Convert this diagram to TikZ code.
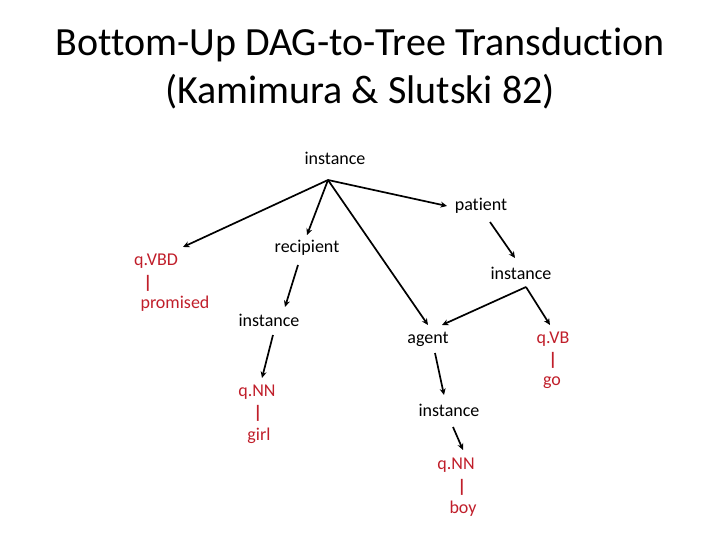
\documentclass[tikz,border=0pt]{standalone}
\usepackage{fontspec}
\setmainfont{Carlito}[Ligatures={NoCommon,NoRare},Contextuals=NoAlternate]
\usetikzlibrary{arrows.meta}
\definecolor{qred}{RGB}{192,30,42}
\begin{document}
\begin{tikzpicture}[x=1pt,y=-1pt,
  lbl/.style={font=\fontsize{18}{21}\selectfont, inner sep=0pt},
  qlbl/.style={lbl, text=qred},
  qbar/.style={qlbl, font=\fontsize{18}{21}\selectfont\bfseries},
  edge/.style={line width=1.7pt, -{Stealth[length=6.5pt,width=6pt]}}]
\useasboundingbox (0,0) rectangle (720,540);
\node[font=\fontsize{40}{48}\selectfont, inner sep=0pt] (t1) at (360,45) {Bottom-Up DAG-to-Tree Transduction};
\node[font=\fontsize{40}{48}\selectfont, inner sep=0pt] (t2) at (360,92) {(Kamimura \& Slutski 82)};

\node[lbl] (inst0) at (335,158) {instance};
\node[lbl] (patient) at (481,206) {patient};
\node[qlbl] (vbd) at (156,261) {q.VBD};
\node[qbar] (vbdbar) at (148,283) {|};
\node[qlbl] (promised) at (175,304) {promised};
\node[lbl] (recipient) at (307,248) {recipient};
\node[lbl] (inst1) at (521,273) {instance};
\node[lbl] (inst2) at (269,320) {instance};
\node[lbl] (agent) at (428,339) {agent};
\node[qlbl] (vb) at (553,339) {q.VB};
\node[qbar] (vbbar) at (553,360) {|};
\node[qlbl] (go) at (552,383) {go};
\node[qlbl] (nn1) at (257,392) {q.NN};
\node[qbar] (nn1bar) at (258,413) {|};
\node[qlbl] (girl) at (259,436) {girl};
\node[lbl] (inst3) at (449,410) {instance};
\node[qlbl] (nn2) at (456,465) {q.NN};
\node[qbar] (nn2bar) at (462,487) {|};
\node[qlbl] (boy) at (463,509) {boy};

\coordinate (root) at (328,180);
\coordinate (vbdIn) at (183,247);
\coordinate (recIn) at (307,235);
\coordinate (recOut) at (298,265);
\coordinate (agIn1) at (428,325);
\coordinate (patIn) at (447,206);
\coordinate (patOut) at (490,222);
\coordinate (i1In) at (515,258);
\coordinate (i1Out) at (526,287);
\coordinate (agIn2) at (442,325);
\coordinate (vbIn) at (550,325);
\coordinate (i2In) at (285,307);
\coordinate (i2Out) at (273,335);
\coordinate (nn1In) at (262,378);
\coordinate (agOut) at (435,353);
\coordinate (i3In) at (444,395);
\coordinate (i3Out) at (453,427);
\coordinate (nn2In) at (463,450);

\draw[edge] (root) -- (vbdIn);
\draw[edge] (root) -- (recIn);
\draw[edge] (root) -- (agIn1);
\draw[edge] (root) -- (patIn);
\draw[edge] (recOut) -- (i2In);
\draw[edge] (patOut) -- (i1In);
\draw[edge] (i1Out) -- (agIn2);
\draw[edge] (i1Out) -- (vbIn);
\draw[edge] (i2Out) -- (nn1In);
\draw[edge] (agOut) -- (i3In);
\draw[edge] (i3Out) -- (nn2In);
\end{tikzpicture}
\end{document}
